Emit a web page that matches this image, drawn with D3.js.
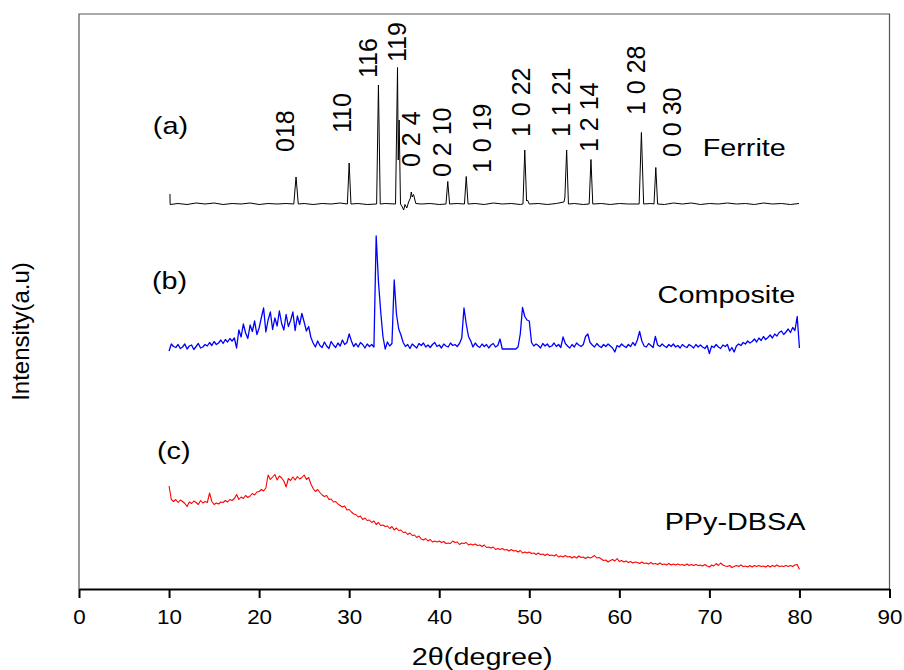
<!DOCTYPE html>
<html><head><meta charset="utf-8">
<script src="https://cdn.jsdelivr.net/npm/d3@7"></script>
<style>body{margin:0;background:#fff} svg{display:block} text{font-family:"Liberation Sans",Arial,Helvetica,sans-serif;fill:#000}</style>
</head><body><svg id="c" width="904" height="670"></svg>
<script>
// ---------- data ----------
const scanStart = 10, scanStep = 0.25;   // 2θ scan grid of the composite and PPy-DBSA patterns
const compositeValues = [
 47.6,49.0,48.5,48.3, 48.9,48.1,48.4,49.0, 48.0,48.6,48.8,47.9, 48.5,49.1,48.2,48.4,
 48.9,48.6,49.3,48.7, 49.5,48.9,49.2,49.8, 49.1,49.9,49.4,50.1, 49.6,50.2,48.2,51.8,
 50.4,53.0,51.2,50.1, 52.8,51.5,53.6,50.9, 52.2,54.3,56.2,51.4, 53.8,55.4,51.9,54.2,
 52.6,55.6,53.1,51.8, 54.9,52.5,53.7,55.4, 51.7,54.6,52.9,55.1, 53.4,51.6,52.5,50.3,
 49.2,48.4,49.6,48.7, 48.3,49.4,48.6,48.1, 49.5,48.8,48.3,49.2, 48.6,49.8,48.9,49.3,
 51.0,49.6,48.5,49.1, 48.4,49.3,48.9,48.2, 49.0,48.5,48.9,48.4, 70.6,61.5,55.5,50.5,
 48.0,49.4,48.6,49.1, 61.8,55.0,52.0,50.8, 49.3,48.5,48.9,48.1, 49.0,48.6,48.2,49.1,
 48.7,49.2,48.4,48.8, 48.3,48.9,49.3,48.5, 48.8,48.2,49.0,48.6, 48.4,49.2,48.7,48.9,
 48.5,49.1,50.2,56.2, 53.0,50.5,49.6,48.4, 49.2,48.6,48.3,49.0, 48.5,48.9,48.2,48.8,
 49.1,48.4,48.7,50.0, 48.0,48.0,48.0,48.0, 48.0,48.0,48.0,48.4, 51.0,56.3,54.5,53.8,
 53.6,49.3,48.6,49.0, 48.7,48.2,49.1,48.6, 49.0,48.4,48.6,49.2, 48.5,48.9,48.3,50.4,
 49.1,48.6,48.2,48.9, 48.4,49.2,48.8,48.5, 48.9,50.5,51.0,49.3, 48.8,48.4,49.1,48.6,
 48.3,48.9,48.5,49.0, 48.6,48.2,47.4,48.7, 48.4,49.0,48.6,48.3, 48.9,48.5,49.3,48.7,
 49.8,51.5,49.6,48.6, 48.4,49.1,48.7,48.3, 50.5,48.8,48.5,49.0, 48.6,48.3,48.9,48.5,
 49.0,48.4,48.7,48.2, 48.9,48.5,48.3,48.9, 48.6,48.2,48.9,48.4, 48.8,48.4,48.1,48.7,
 47.1,48.6,48.3,48.9, 48.4,48.1,48.8,48.5, 48.9,47.6,48.3,47.4, 48.6,49.0,48.7,49.3,
 49.0,49.6,49.2,49.5, 50.0,49.4,50.2,49.7, 50.5,49.9,50.3,50.8, 50.2,51.0,50.6,51.3,
 51.6,50.9,51.4,52.0, 51.3,52.3,51.7,54.5, 48.2
];
const ppyValues = [
 20.6,17.9,17.5,17.9, 17.3,17.8,17.5,17.1, 16.5,17.4,17.1,17.6, 17.3,16.9,17.7,17.2,
 17.5,17.3,19.2,17.5, 16.9,17.2,17.0,17.4, 17.3,17.7,17.4,17.9, 17.7,18.1,18.9,17.9,
 18.4,18.1,18.7,18.3, 18.6,19.1,18.8,19.4, 19.5,19.9,19.6,20.2, 22.8,21.9,22.4,22.9,
 21.8,22.6,22.2,21.6, 20.4,22.1,21.7,22.4, 21.8,22.5,22.0,22.3, 22.8,21.9,22.3,21.0,
 20.1,19.5,19.9,19.3, 18.8,18.5,18.7,17.9, 18.0,17.4,17.5,17.0, 16.7,16.4,16.6,15.8,
 15.9,15.4,15.0,14.9, 14.4,14.6,13.9,14.2, 13.7,13.8,13.3,13.6, 12.9,13.3,12.7,12.8,
 12.5,12.6,12.1,12.5, 11.8,12.2,11.7,11.8, 11.3,11.4,10.9,11.2, 10.7,10.8,10.3,10.6,
 10.0,9.8,10.1,9.6, 9.9,9.4,9.6,9.4, 9.6,9.3,9.5,9.1, 9.2,9.1,9.6,9.3,
 9.4,8.9,9.2,9.1, 9.3,8.8,9.0,8.8, 9.0,8.7,8.8,8.5, 8.8,8.3,8.4,8.2,
 8.4,7.9,8.1,7.9, 8.1,7.8,7.9,7.6, 7.9,7.6,7.7,7.4, 7.7,7.2,7.4,7.2,
 7.4,7.1,7.2,6.9, 7.2,6.9,7.0,6.7, 7.0,6.7,6.8,6.6, 6.9,6.4,6.6,6.4,
 6.7,6.4,6.5,6.2, 6.5,6.2,6.6,6.3, 6.4,6.1,6.4,6.2, 6.4,6.7,6.2,6.3,
 6.0,5.7,5.8,5.4, 5.7,5.9,5.6,6.1, 5.5,5.7,5.4,5.6, 5.3,5.5,5.2,5.4,
 5.3,5.1,5.4,5.1, 5.2,5.0,5.3,5.0, 5.1,4.9,5.2,4.9, 5.0,4.8,5.1,4.8,
 5.0,4.8,5.0,4.8, 4.9,4.7,5.0,4.7, 4.9,4.7,4.9,4.7, 4.8,4.6,4.9,4.6,
 4.4,4.8,4.6,5.1, 4.7,5.2,4.8,4.6, 4.5,4.7,4.3,4.5, 4.7,4.5,4.8,4.5,
 4.6,4.4,4.7,4.4, 4.7,4.5,4.7,4.5, 4.6,4.4,4.7,4.4, 4.7,4.5,4.8,4.5,
 4.6,4.5,4.7,4.5, 4.7,4.5,4.8,4.9, 3.9
];
const ferriteAngles = [10.10,10.12,11,12,13,14,15,16,17,18,19,20,21,22,23,23.85,24.1,24.35,25,26,27,28,29,
 29.8,30.0,30.2,31,32,33.05,33.25,33.45,34,35.15,35.37,35.45,35.55,35.7,35.9,36.05,36.2,36.4,36.6,36.8,36.9,
 37.0,37.15,37.4,38,39,40,40.75,40.95,41.15,42,42.8,43.0,43.2,44,45,46,47,48,49,49.3,49.5,49.7,49.8,50.0,
 51,52,53,53.85,53.95,54.15,54.35,55,56,56.65,56.85,57.05,58,59,60,61,62.2,62.45,62.7,63.5,63.85,64.05,64.25,
 65,66,67,68,69,70,71,72,73,74,75,76,77,78,79,79.95];
const ferriteValues = [79.0,76.9,77.1,76.9,77.2,77.0,77.2,76.9,77.1,77.0,77.2,76.9,77.1,77.0,77.1,77.0,82.4,77.0,77.1,76.9,77.1,77.0,77.2,
 77.0,85.2,77.0,77.1,76.9,77.0,100.8,77.0,77.1,77.0,104.3,85.8,93.8,77.0,76.4,75.8,76.9,76.2,77.4,78.2,79.4,
 78.4,78.9,77.1,77.0,77.1,76.9,77.0,81.5,77.0,77.1,77.0,82.5,77.0,77.1,76.9,77.2,77.0,77.1,76.9,77.0,87.8,77.6,77.8,77.0,
 77.1,76.9,77.1,77.4,78.2,87.8,77.0,77.1,76.9,77.0,85.9,77.0,77.1,76.9,77.1,77.0,77.0,91.3,77.0,77.1,77.0,84.3,77.0,
 76.9,77.2,77.0,77.2,76.9,77.1,77.0,77.2,77.0,77.1,76.9,77.2,77.0,77.1,76.9,77.1];

const hklLabels  = ["018","110","116","119","0 2 4","0 2 10","1 0 19","1 0 22","1 1 21","1 2 14","1 0 28","0 0 30"];
const hklAngles  = [23.86,30.19,33.07,36.29,37.84,41.28,45.72,50.05,54.49,57.6,62.81,66.81];
const hklHeights = [87.4,91.2,102.2,105.4,84.4,82.4,83.2,90.4,90.4,87.4,94.8,86.4];

const panelTags    = ["(a)","(b)","(c)"];
const panelAngles  = [8.2,8.1,8.66];
const panelHeights = [91,60,26];
const sampleNames   = ["Ferrite","Composite","PPy-DBSA"];
const sampleAngles  = [69.25,64.25,65.03];
const sampleHeights = [86.6,57.2,11.8];

const majorTicks = [0,10,20,30,40,50,60,70,80,90];
const minorTicks = [5,15,25,35,45,55,65,75,85];
const xTitle = "2θ(degree)", yTitle = "Intensity(a.u)";

// ---------- chart ----------
const svg = d3.select("#c");
const x = d3.scaleLinear().domain([0, 90]).range([79, 889.5]);
const y = d3.scaleLinear().domain([0, 115]).range([589, 14]);

const gridAngles = v => v.map((_, i) => scanStart + i * scanStep);
const line = d3.line().x(d => x(d[0])).y(d => y(d[1]));

// frame (left, top, right)
svg.append("path")
  .attr("d", `M${x(0)},${y(0)}V${y(115)}H${x(90)}V${y(0)}`)
  .attr("fill", "none").attr("stroke", "#555").attr("stroke-width", 1.2);

// series
const ferritePts = ferriteAngles.map((a, i) => [a, ferriteValues[i]]);
const compAng = gridAngles(compositeValues), ppyAng = gridAngles(ppyValues);
const compPts = compositeValues.map((v, i) => [compAng[i], v]);
const ppyPts = ppyValues.map((v, i) => [ppyAng[i], v]);

svg.append("path").attr("d", line(ferritePts)).attr("fill", "none").attr("stroke", "#000").attr("stroke-width", 1).attr("stroke-linejoin","round");
svg.append("path").attr("d", line(compPts)).attr("fill", "none").attr("stroke", "#0000ff").attr("stroke-width", 1.3).attr("stroke-linejoin","round");
svg.append("path").attr("d", line(ppyPts)).attr("fill", "none").attr("stroke", "#ff0000").attr("stroke-width", 1.1).attr("stroke-linejoin","round");

// axes
const ax = svg.append("g").attr("transform", `translate(0,${y(0)})`);
ax.call(d3.axisBottom(x).tickValues(minorTicks).tickSize(5).tickSizeOuter(0).tickFormat(""));
ax.call(d3.axisBottom(x).tickValues(majorTicks).tickSize(9).tickSizeOuter(0).tickFormat(d => String(d)));
ax.selectAll(".domain").attr("stroke", "#000").attr("stroke-width", 2.2);
ax.selectAll(".tick line").attr("stroke", "#000").attr("stroke-width", 2);
ax.selectAll(".tick text").attr("y", 35).attr("dy", 0).attr("font-size", 20)
  .attr("font-family", '"Liberation Sans",Arial,sans-serif').attr("fill", "#000")
  .attr("transform", "scale(1.12,1)");

// stretched horizontal text helper
function htext(str, px, py, size, anchor) {
  svg.append("text").text(str)
    .attr("transform", `translate(${px},${py}) scale(1.2,1)`)
    .attr("font-size", size).attr("text-anchor", anchor || "start");
}
htext(xTitle, (x(0) + x(90)) / 2 - 2, 665, 24, "middle");
svg.append("text").text(yTitle)
  .attr("transform", `translate(29,${(y(0) + y(115)) / 2 + 30}) rotate(-90)`)
  .attr("font-size", 24).attr("text-anchor", "middle");

panelTags.forEach((t, i) => htext(t, x(panelAngles[i]), y(panelHeights[i]), 24));
sampleNames.forEach((t, i) => htext(t, x(sampleAngles[i]), y(sampleHeights[i]), 24));

hklLabels.forEach((t, i) => {
  svg.append("text").text(t)
    .attr("transform", `translate(${x(hklAngles[i])},${y(hklHeights[i])}) rotate(-90)`)
    .attr("font-size", 25).attr("text-anchor", "start");
});
</script></body></html>
